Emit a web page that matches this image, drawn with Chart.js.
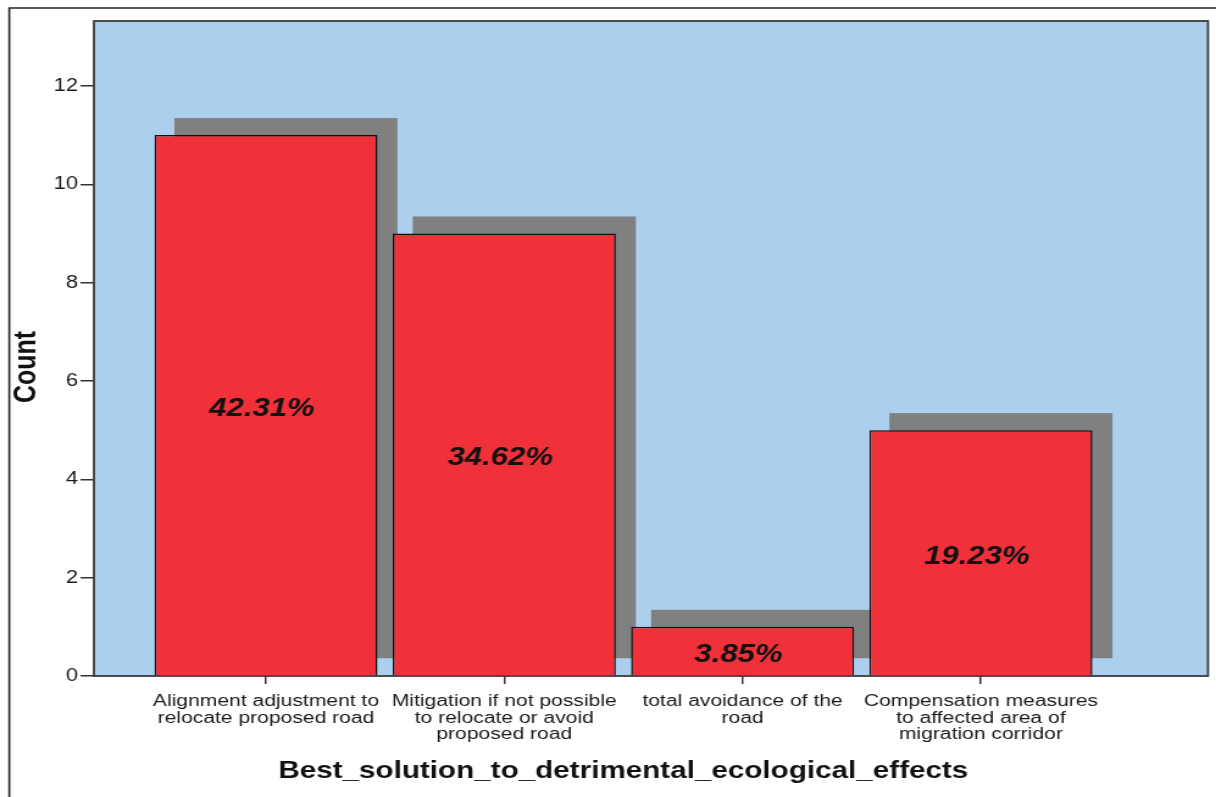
<!DOCTYPE html>
<html>
<head>
<meta charset="utf-8">
<script src="https://cdn.jsdelivr.net/npm/chart.js@4/dist/chart.umd.min.js"></script>
<style>
  html, body { margin: 0; padding: 0; background: #ffffff; overflow: hidden; }
  #wrap { position: absolute; left: 0; top: 0; width: 997px; height: 797px; transform: scaleX(1.2197); transform-origin: 0 0; }
</style>
</head>
<body>
<div id="wrap"><canvas id="c"></canvas></div>
<script>
// ---- data ----
const categories = [
  ['Alignment adjustment to', 'relocate proposed road'],
  ['Mitigation if not possible', 'to relocate or avoid', 'proposed road'],
  ['total avoidance of the', 'road'],
  ['Compensation measures', 'to affected area of', 'migration corridor']
];
const counts = [11, 9, 1, 5];
const percents = [42.31, 34.62, 3.85, 19.23];
const yTicks = [0, 2, 4, 6, 8, 10, 12];
const xTitle = 'Best_solution_to_detrimental_ecological_effects';
const yTitle = 'Count';

// ---- styling ----
const FONT = '"Liberation Sans", Arial, sans-serif';
const plotBg = '#ACCFEE';
const barRed = '#F0313A';
const shadowGray = '#808080';

const decor = {
  id: 'decor',
  beforeDraw(chart) {
    const { ctx, chartArea: a, width, height } = chart;
    ctx.save();
    ctx.fillStyle = plotBg;
    ctx.fillRect(a.left, a.top, a.right - a.left, a.bottom - a.top);
    // outer frame (cropped at right and bottom)
    ctx.strokeStyle = '#222';
    ctx.lineWidth = 1.6;
    ctx.beginPath();
    ctx.moveTo(7.6, height + 2);
    ctx.lineTo(7.6, 8);
    ctx.lineTo(width + 2, 8);
    ctx.stroke();
    ctx.restore();
  },
  beforeDatasetsDraw(chart) {
    const { ctx, chartArea: a } = chart;
    const meta = chart.getDatasetMeta(0);
    ctx.save();
    ctx.fillStyle = shadowGray;
    meta.data.forEach(el => {
      const p = el.getProps(['x', 'y', 'base', 'width'], true);
      ctx.fillRect(p.x - p.width / 2 + 16.4, p.y - 17, p.width, p.base - p.y);
    });
    // plot frame
    ctx.strokeStyle = '#3a3a3a';
    ctx.lineWidth = 1.8;
    ctx.strokeRect(a.left, a.top, a.right - a.left, a.bottom - a.top);
    ctx.restore();
  },
  afterDatasetsDraw(chart) {
    const { ctx } = chart;
    const meta = chart.getDatasetMeta(0);
    ctx.save();
    ctx.fillStyle = '#111';
    ctx.textAlign = 'center';
    ctx.textBaseline = 'middle';
    ctx.font = 'italic bold 25.5px ' + FONT;
    meta.data.forEach((el, i) => {
      const p = el.getProps(['x', 'y', 'base'], true);
      ctx.fillText(percents[i].toFixed(2) + '%', p.x - 3.3, (p.y + p.base) / 2 + 4);
    });
    // axis titles
    ctx.fillStyle = '#111';
    ctx.font = 'bold 24.3px ' + FONT;
    ctx.fillText(xTitle, 511, 771);
    ctx.save();
    ctx.translate(22.5, 367);
    ctx.rotate(-Math.PI / 2);
    ctx.font = 'bold 25px ' + FONT;
    ctx.fillText(yTitle, 0, 0);
    ctx.restore();
    ctx.restore();
  }
};

new Chart(document.getElementById('c'), {
  type: 'bar',
  data: {
    datasets: [{
      data: counts.map((v, i) => ({ x: i, y: v })),
      backgroundColor: barRed,
      borderColor: '#111',
      borderWidth: 1.5,
      barPercentage: 0.936,
      categoryPercentage: 1
    }]
  },
  options: {
    responsive: true,
    maintainAspectRatio: false,
    animation: false,
    layout: { padding: { top: 21, right: 6.6, left: 0, bottom: 0 } },
    plugins: { legend: { display: false }, tooltip: { enabled: false } },
    scales: {
      x: {
        type: 'linear',
        offset: false,
        min: -0.722,
        max: 3.953,
        afterBuildTicks: s => { s.ticks = categories.map((c, i) => ({ value: i })); },
        afterFit: s => { s.height = 121; },
        grid: { offset: false, drawOnChartArea: false, drawTicks: true, tickLength: 8, color: '#333', lineWidth: 1.5 },
        border: { display: false },
        ticks: {
          autoSkip: false, maxRotation: 0, minRotation: 0, padding: 9, color: '#1a1a1a',
          font: { family: FONT, size: 17.3, lineHeight: '16.5px' },
          callback: v => categories[v]
        }
      },
      y: {
        min: 0,
        max: 13.32,
        afterBuildTicks: s => { s.ticks = yTicks.map(v => ({ value: v })); },
        afterFit: s => { s.width = 77; },
        grid: { drawOnChartArea: false, drawTicks: true, tickLength: 11, color: '#333', lineWidth: 1.5 },
        border: { display: false },
        ticks: { padding: 2, color: '#1a1a1a', font: { family: FONT, size: 18 } }
      }
    }
  },
  plugins: [decor]
});
</script>
</body>
</html>
